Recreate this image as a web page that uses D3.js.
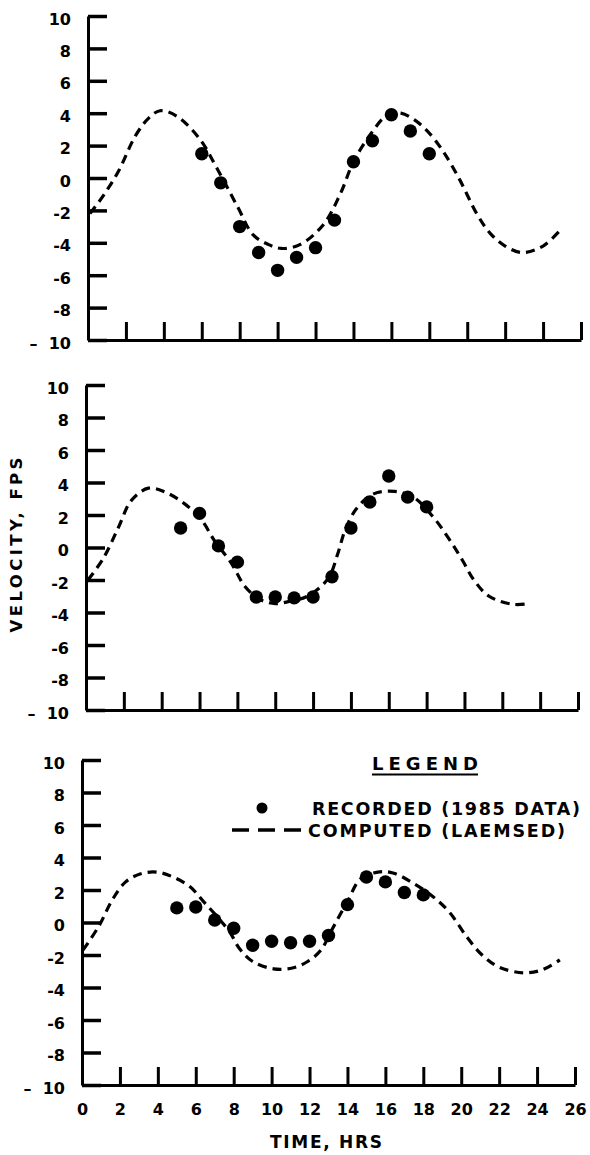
<!DOCTYPE html>
<html>
<head>
<meta charset="utf-8">
<script src="https://cdn.jsdelivr.net/npm/d3@7"></script>
<style>
  html, body { margin: 0; padding: 0; background: #fff; }
  svg { display: block; }
  text { font-family: "DejaVu Sans", Verdana, sans-serif; font-weight: 700; fill: #000; }
</style>
</head>
<body>
<script>
// ---------- DATA ----------
const xTicks = [0, 2, 4, 6, 8, 10, 12, 14, 16, 18, 20, 22, 24, 26];
const yTicks = [10, 8, 6, 4, 2, 0, -2, -4, -6, -8, -10];

// Panel 1 (top)
const computedTime1 = [0.1, 0.8, 1.6, 2.5, 3.2, 3.8, 4.7, 5.9, 6.8, 7.9, 8.7, 9.5, 10.2, 11.2, 12.4, 13.3, 14.0, 14.9, 15.8, 16.5, 17.2, 17.9, 18.7, 19.6, 20.5, 21.2, 22.0, 22.9, 24.0, 25.0];
const computedVel1  = [-2.2, -1.1, 0.4, 2.6, 3.7, 4.15, 3.8, 2.4, 0.6, -1.8, -3.5, -4.1, -4.35, -4.1, -2.9, -1.0, 1.0, 2.7, 3.9, 4.0, 3.6, 2.9, 1.7, -0.1, -2.2, -3.4, -4.2, -4.6, -4.2, -3.1];
const recordedTime1 = [6, 7, 8, 9, 10, 11, 12, 13, 14, 15, 16, 17, 18];
const recordedVel1  = [1.5, -0.3, -3.0, -4.6, -5.7, -4.9, -4.3, -2.6, 1.0, 2.3, 3.9, 2.9, 1.5];

// Panel 2 (middle)
const computedTime2 = [0.1, 0.9, 1.7, 2.4, 3.3, 4.2, 5.2, 6.1, 6.8, 7.7, 8.4, 9.2, 10.0, 10.8, 11.7, 12.8, 13.3, 13.7, 14.3, 15.2, 16.3, 17.3, 18.4, 19.2, 19.9, 20.5, 21.3, 22.6, 23.4];
const computedVel2  = [-2.0, -0.7, 1.2, 2.9, 3.65, 3.4, 2.7, 1.7, 0.4, -1.0, -2.4, -3.2, -3.45, -3.3, -3.0, -1.9, -0.4, 1.1, 2.4, 3.3, 3.45, 3.1, 1.8, 0.5, -0.8, -2.0, -3.0, -3.5, -3.45];
const recordedTime2 = [5, 6, 7, 8, 9, 10, 11, 12, 13, 14, 15, 16, 17, 18];
const recordedVel2  = [1.2, 2.1, 0.1, -0.9, -3.05, -3.05, -3.1, -3.05, -1.8, 1.2, 2.8, 4.4, 3.1, 2.5];

// Panel 3 (bottom)
const computedTime3 = [0.05, 0.9, 1.6, 2.3, 3.1, 3.95, 4.8, 5.7, 6.4, 7.1, 7.8, 8.3, 9.0, 10.1, 11.1, 11.9, 12.6, 13.2, 14.0, 14.7, 15.6, 16.4, 17.5, 18.5, 19.4, 20.3, 21.1, 22.0, 23.3, 24.3, 25.2];
const computedVel3  = [-1.7, -0.2, 1.4, 2.5, 3.0, 3.1, 2.8, 2.2, 1.3, 0.4, -0.6, -1.6, -2.4, -2.85, -2.8, -2.4, -1.7, -0.4, 1.3, 2.7, 3.1, 3.05, 2.4, 1.6, 0.6, -0.9, -2.0, -2.75, -3.1, -2.9, -2.3];
const recordedTime3 = [5, 6, 7, 8, 9, 10, 11, 12, 13, 14, 15, 16, 17, 18];
const recordedVel3  = [0.9, 0.95, 0.15, -0.35, -1.4, -1.15, -1.25, -1.15, -0.8, 1.1, 2.8, 2.5, 1.85, 1.7];

const legendLabels = ["RECORDED (1985 DATA)", "COMPUTED (LAEMSED)"];

// ---------- LAYOUT ----------
const W = 590, H = 1155;
const svg = d3.select("body").append("svg").attr("width", W).attr("height", H);

const panels = [
  { top: 16,  bottom: 340,  left: 88, right: 581, ct: computedTime1, cv: computedVel1, rt: recordedTime1, rv: recordedVel1, xLabels: false },
  { top: 385, bottom: 710,  left: 86, right: 578, ct: computedTime2, cv: computedVel2, rt: recordedTime2, rv: recordedVel2, xLabels: false },
  { top: 760, bottom: 1085, left: 82, right: 575, ct: computedTime3, cv: computedVel3, rt: recordedTime3, rv: recordedVel3, xLabels: true }
];

const yFmt = d => d === -10 ? "\u2013\u2002\u200910" : String(d);
const FONT = '"DejaVu Sans", Verdana, sans-serif';

panels.forEach(p => {
  const x = d3.scaleLinear().domain([0, 26]).range([p.left, p.right]);
  const y = d3.scaleLinear().domain([-10, 10]).range([p.bottom, p.top]);
  const g = svg.append("g");

  // y axis
  const ya = g.append("g").attr("transform", `translate(${p.left},0)`)
    .call(d3.axisLeft(y).tickValues(yTicks).tickFormat(yFmt).tickSizeInner(-19).tickSizeOuter(0).tickPadding(17));
  ya.select(".domain").attr("stroke", "#000").attr("stroke-width", 3);
  ya.selectAll(".tick line").attr("stroke", "#000").attr("stroke-width", 3.5);
  ya.selectAll(".tick text").attr("font-size", 16).attr("dy", "0.5em")
    .attr("font-family", FONT).attr("font-weight", 700);

  // x axis
  const xa = g.append("g").attr("transform", `translate(0,${p.bottom})`)
    .call(d3.axisBottom(x).tickValues(xTicks).tickFormat(p.xLabels ? (d => String(d)) : (() => ""))
      .tickSizeInner(-18).tickSizeOuter(0).tickPadding(19));
  xa.select(".domain").attr("stroke", "#000").attr("stroke-width", 3);
  xa.selectAll(".tick line").attr("stroke", "#000").attr("stroke-width", 3);
  xa.selectAll(".tick text").attr("font-size", 16)
    .attr("font-family", FONT).attr("font-weight", 700);

  // computed curve
  const pts = p.ct.map((t, i) => [t, p.cv[i]]);
  const line = d3.line().x(d => x(d[0])).y(d => y(d[1])).curve(d3.curveCatmullRom.alpha(0.5));
  g.append("path").attr("d", line(pts)).attr("fill", "none").attr("stroke", "#000")
    .attr("stroke-width", 3.2).attr("stroke-dasharray", "9,6");

  // recorded points
  g.selectAll("circle.rec").data(p.rt.map((t, i) => [t, p.rv[i]])).join("circle")
    .attr("class", "rec").attr("cx", d => x(d[0])).attr("cy", d => y(d[1])).attr("r", 6.7).attr("fill", "#000");
});

// Y axis title
svg.append("text").attr("transform", "translate(22,545) rotate(-90)")
  .attr("text-anchor", "middle").attr("font-size", 16.5)
  .attr("textLength", 175).attr("lengthAdjust", "spacing").text("VELOCITY, FPS");

// X axis title
svg.append("text").attr("x", 326).attr("y", 1148).attr("text-anchor", "middle").attr("font-size", 17)
  .attr("textLength", 112).attr("lengthAdjust", "spacing").text("TIME, HRS");

// Legend
const lg = svg.append("g");
lg.append("text").attr("x", 372).attr("y", 770).attr("font-size", 18)
  .attr("textLength", 106).attr("lengthAdjust", "spacing").text("LEGEND");
lg.append("line").attr("x1", 372).attr("x2", 478).attr("y1", 774.5).attr("y2", 774.5)
  .attr("stroke", "#000").attr("stroke-width", 2);
lg.append("circle").attr("cx", 262).attr("cy", 808).attr("r", 5.5).attr("fill", "#000");
lg.append("line").attr("x1", 232).attr("x2", 302).attr("y1", 830).attr("y2", 830)
  .attr("stroke", "#000").attr("stroke-width", 3.5).attr("stroke-dasharray", "17,9");
lg.append("text").attr("x", 312).attr("y", 815).attr("font-size", 17.5)
  .attr("textLength", 268).attr("lengthAdjust", "spacing").text(legendLabels[0]);
lg.append("text").attr("x", 308).attr("y", 837).attr("font-size", 17.5)
  .attr("textLength", 257).attr("lengthAdjust", "spacing").text(legendLabels[1]);
</script>
</body>
</html>
